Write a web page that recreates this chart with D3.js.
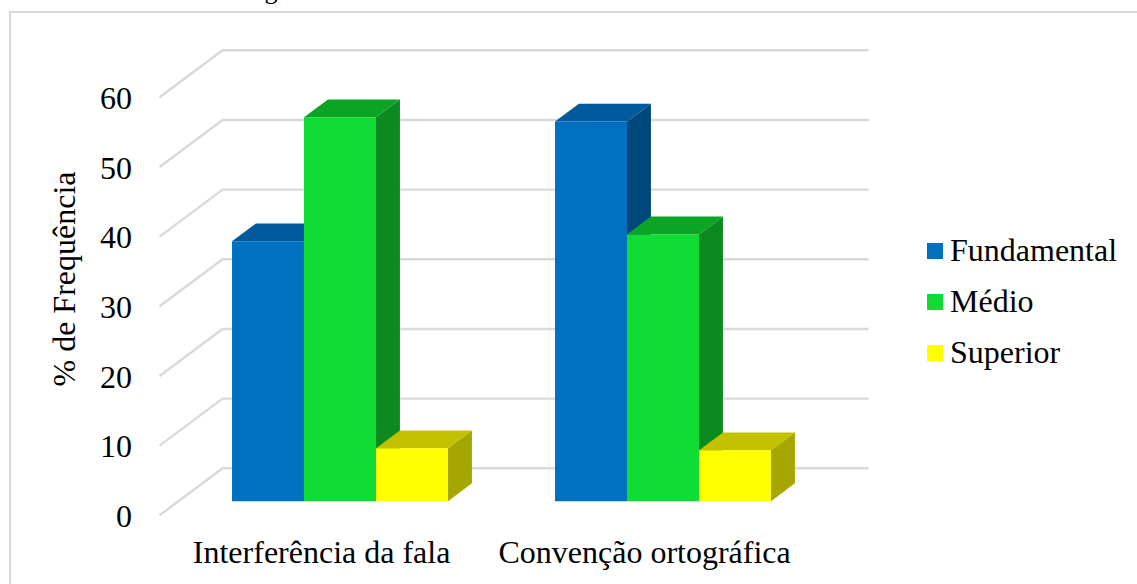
<!DOCTYPE html>
<html>
<head>
<meta charset="utf-8">
<script src="https://cdn.jsdelivr.net/npm/d3@7"></script>
<style>
html,body{margin:0;padding:0;background:#fff;overflow:hidden}
svg{display:block}
text{font-family:"Liberation Serif",serif;fill:#000}
</style>
</head>
<body>
<svg id="c" width="1137" height="584"></svg>
<script>
const categories = ["Interferência da fala", "Convenção ortográfica"];
const seriesNames = ["Fundamental", "Médio", "Superior"];
const fundamental = [37.3, 54.5];
const medio = [55.1, 38.3];
const superior = [7.6, 7.3];
const yTicks = [0, 10, 20, 30, 40, 50, 60];
const faceColors = ["#0070c0", "#10dc36", "#ffff00"];
const topColors = ["#005a9b", "#0ca424", "#c2c200"];
const sideColors = ["#00487c", "#0a8a20", "#a6a600"];
const seriesValues = [fundamental, medio, superior];

const svg = d3.select("#c");
const grid = "#d9d9d9";
const fs = 32;

// chart frame: only top and left edges fall inside the picture
svg.append("path").attr("d", "M10,584V12H1137").attr("fill", "none").attr("stroke", grid).attr("stroke-width", 2);

// the clipped descender of text above the frame
svg.append("text").attr("x", 271).attr("y", -1).attr("text-anchor", "middle").attr("font-size", 26).text("g");

// front plane scales
const yFront = d3.scaleLinear().domain([0, 60]).range([515.3, 97.3]);
const x0 = d3.scaleBand().domain(categories).range([159.6, 805.6]);
const x1 = d3.scaleBand().domain(seriesNames).range([-108, 108]);
// depth: 0 front plane, 1 back wall
const depthX = d3.scaleLinear().domain([0, 1]).range([0, 63]);
const depthY = d3.scaleLinear().domain([0, 1]).range([0, -47]);
const barDepthStart = 0.3, barDepthEnd = 0.68;

const px = (x, d) => x + depthX(d);
const py = (v, d) => yFront(v) + depthY(d);

// gridlines
const g = svg.append("g").attr("fill", "none").attr("stroke", grid).attr("stroke-width", 2.4);
yTicks.forEach(t => {
  g.append("path").attr("d", d3.line()([
    [px(x0.range()[0], 0), py(t, 0)],
    [px(x0.range()[0], 1), py(t, 1)],
    [px(x0.range()[1], 1), py(t, 1)]
  ]));
});

// bars, painted left to right
const bars = svg.append("g");
categories.forEach((cat, ci) => {
  const cx = x0(cat) + x0.bandwidth() / 2;
  seriesNames.forEach((name, si) => {
    const v = seriesValues[si][ci];
    const l = cx + x1(name), r = l + x1.bandwidth();
    const a = barDepthStart, b = barDepthEnd;
    const poly = pts => d3.line()(pts) + "Z";
    bars.append("path").attr("fill", sideColors[si]).attr("d", poly([
      [px(r, a), py(v, a)], [px(r, b), py(v, b)], [px(r, b), py(0, b)], [px(r, a), py(0, a)]]));
    bars.append("path").attr("fill", topColors[si]).attr("d", poly([
      [px(l, a), py(v, a)], [px(l, b), py(v, b)], [px(r, b), py(v, b)], [px(r, a), py(v, a)]]));
    bars.append("path").attr("fill", faceColors[si]).attr("d", poly([
      [px(l, a), py(v, a)], [px(r, a), py(v, a)], [px(r, a), py(0, a)], [px(l, a), py(0, a)]]));
  });
});

// axes
const yAxis = svg.append("g").attr("transform", "translate(144,1)")
  .call(d3.axisLeft(yFront).tickValues(yTicks).tickSize(0).tickPadding(12).tickFormat(d3.format("d")));
yAxis.select(".domain").remove();
yAxis.selectAll("text").attr("font-size", fs).style("font-family", '"Liberation Serif",serif').attr("fill", "#000");

const xAxis = svg.append("g").attr("transform", "translate(0.5,537)")
  .call(d3.axisBottom(x0).tickSize(0).tickPadding(0));
xAxis.select(".domain").remove();
xAxis.selectAll("text").attr("dy", "0.8em").attr("font-size", fs).style("font-family", '"Liberation Serif",serif').attr("fill", "#000");

// axis title
svg.append("text").attr("transform", "translate(75,279) rotate(-90)")
  .attr("text-anchor", "middle").attr("font-size", fs).text("% de Frequência");

// legend
const legendY = d3.scalePoint().domain(seriesNames).range([251, 353]);
seriesNames.forEach((name, i) => {
  svg.append("rect").attr("x", 927).attr("y", legendY(name) - 8).attr("width", 16).attr("height", 16).attr("fill", faceColors[i]);
  svg.append("text").attr("x", 950).attr("y", legendY(name) + 10).attr("font-size", fs).text(name);
});
</script>
</body>
</html>
